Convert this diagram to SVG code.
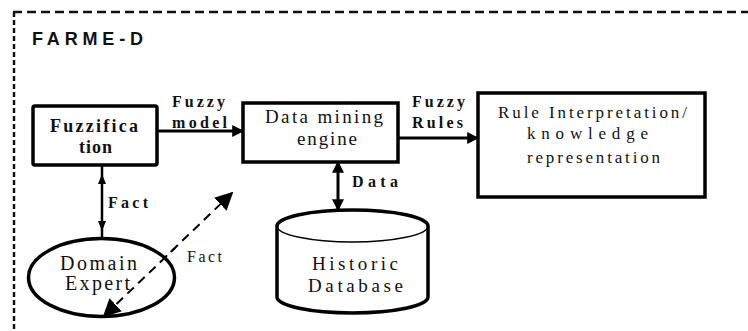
<svg xmlns="http://www.w3.org/2000/svg" width="748" height="331" viewBox="0 0 748 331">
  <style>
    .frame { fill: none; stroke: #111; stroke-width: 2.5; }
    .box { fill: #fff; stroke: #000; stroke-width: 3.5; }
    .edge { fill: none; stroke: #000; stroke-width: 3; }
    .thin { fill: none; stroke: #000; stroke-width: 2.5; }
    .dash { fill: none; stroke: #000; stroke-width: 2; stroke-dasharray: 9 6; }
    .head { fill: #000; }
    .lbl { font-family: "Liberation Serif", "DejaVu Serif", "Times New Roman", serif; font-size: 16px; fill: #111; }
    .s17 { font-size: 17px; }
    .s18 { font-size: 18px; }
    .s19 { font-size: 19px; }
    .s20 { font-size: 20px; }
    .b { font-weight: bold; }
    .title { font-family: "Liberation Sans", Arial, sans-serif; font-weight: bold; font-size: 18px; fill: #111; }
  </style>
  <defs>
    <marker id="arr" viewBox="0 0 10 10" refX="9" refY="5" markerWidth="4" markerHeight="4" markerUnits="strokeWidth" orient="auto-start-reverse">
      <path d="M0,0 L10,5 L0,10 Z" class="head"/>
    </marker>
    <marker id="arrD" viewBox="0 0 10 10" refX="9" refY="5" markerWidth="9" markerHeight="9" markerUnits="strokeWidth" orient="auto-start-reverse">
      <path d="M0,0 L10,5 L0,10 Z" class="head"/>
    </marker>
  </defs>

  <!-- system boundary -->
  <g id="frame">
    <line x1="13" y1="12" x2="748" y2="12" class="frame" stroke-dasharray="9 5"/>
    <line x1="14" y1="12" x2="14" y2="331" class="frame" stroke-dasharray="5 3"/>
    <text x="32" y="45" class="title" textLength="111" lengthAdjust="spacing">FARME-D</text>
  </g>

  <!-- connectors -->
  <g id="connectors">
    <line x1="157" y1="131" x2="243" y2="131" class="edge" marker-end="url(#arr)"/>
    <line x1="398" y1="138" x2="478" y2="138" class="edge" marker-end="url(#arr)"/>
    <line x1="338" y1="162" x2="338" y2="210" class="edge" marker-start="url(#arr)" marker-end="url(#arr)"/>
    <line x1="102" y1="165" x2="102" y2="238" class="thin"/>
    <path d="M98,184 L102,174 L106,184 Z M98,221 L102,231 L106,221 Z" class="head"/>
    <line x1="232" y1="193" x2="104" y2="316" class="dash" marker-start="url(#arrD)"/>

    <text x="172" y="107" class="lbl b" textLength="53" lengthAdjust="spacing">Fuzzy</text>
    <text x="172" y="128" class="lbl b" textLength="55" lengthAdjust="spacing">model</text>
    <text x="412" y="107" class="lbl b" textLength="53" lengthAdjust="spacing">Fuzzy</text>
    <text x="412" y="128" class="lbl b" textLength="51" lengthAdjust="spacing">Rules</text>
    <text x="352" y="187" class="lbl b" textLength="46" lengthAdjust="spacing">Data</text>
    <text x="108" y="208" class="lbl b" textLength="40" lengthAdjust="spacing">Fact</text>
    <text x="187" y="262" class="lbl" textLength="35" lengthAdjust="spacing">Fact</text>
  </g>

  <g id="fuzzification">
    <rect x="33" y="106" width="124" height="59" rx="2" class="box"/>
    <text x="50" y="132" class="lbl s18 b" textLength="88" lengthAdjust="spacing">Fuzzifica</text>
    <text x="79" y="153" class="lbl s18 b" textLength="33" lengthAdjust="spacing">tion</text>
  </g>

  <g id="data-mining-engine">
    <rect x="243" y="103" width="155" height="59" class="box"/>
    <text x="265" y="123" class="lbl s19" textLength="118" lengthAdjust="spacing">Data mining</text>
    <text x="297" y="145" class="lbl s19" textLength="60" lengthAdjust="spacing">engine</text>
  </g>

  <g id="rule-interpretation">
    <rect x="478" y="93" width="227" height="104" class="box"/>
    <text x="498" y="118" class="lbl s17" textLength="189" lengthAdjust="spacing">Rule Interpretation/</text>
    <text x="527" y="139" class="lbl s17" textLength="121" lengthAdjust="spacing">knowledge</text>
    <text x="527" y="163" class="lbl s17" textLength="133" lengthAdjust="spacing">representation</text>
  </g>

  <g id="domain-expert">
    <ellipse cx="101.5" cy="277.5" rx="73" ry="39" class="box"/>
    <text x="60" y="270" class="lbl s20" textLength="77" lengthAdjust="spacing">Domain</text>
    <text x="65" y="290" class="lbl s20" textLength="65" lengthAdjust="spacing">Expert</text>
  </g>

  <g id="historic-database">
    <path d="M277,226 L277,297 A75.5,16 0 0 0 428,297 L428,226 A75.5,16 0 0 0 277,226 Z" class="box"/>
    <path d="M277,226 A75.5,16 0 0 0 428,226" fill="none" stroke="#000" stroke-width="1.5"/>
    <text x="312" y="270" class="lbl s19" textLength="86" lengthAdjust="spacing">Historic</text>
    <text x="308" y="292" class="lbl s19" textLength="95" lengthAdjust="spacing">Database</text>
  </g>

  <!-- lower part of the dashed link, drawn above the ellipse -->
  <line x1="175" y1="248" x2="104" y2="316" class="dash" stroke-dashoffset="3" marker-end="url(#arrD)"/>
</svg>
